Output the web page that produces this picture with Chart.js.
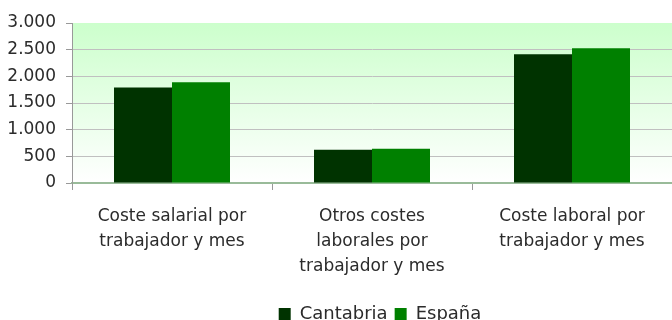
<!DOCTYPE html>
<html>
<head>
<meta charset="utf-8">
<script src="https://cdn.jsdelivr.net/npm/chart.js@4.4.1/dist/chart.umd.min.js"></script>
<style>
  html, body { margin: 0; padding: 0; background: #fff; overflow: hidden; }
  #wrap { width: 672px; height: 333px; }
</style>
</head>
<body>
<div id="wrap"><canvas id="chart"></canvas></div>
<script>
const categories = [
  ["Coste salarial por", "trabajador y mes"],
  ["Otros costes", "laborales por", "trabajador y mes"],
  ["Coste laboral por", "trabajador y mes"]
];
const seriesNames = ["Cantabria", "España"];
const cantabria = [1790, 623, 2415];
const espana = [1890, 641, 2528];
const seriesColors = ["#003300", "#008000"];
const yTicks = [0, 500, 1000, 1500, 2000, 2500, 3000];

const fontFamily = "'DejaVu Sans', sans-serif";
const textColor = "#2b2b2b";

// light green wash behind the plot, fading to white at the base
const plotBackground = {
  id: "plotBackground",
  beforeDraw(chart) {
    const { ctx, chartArea: a } = chart;
    const g = ctx.createLinearGradient(0, a.top, 0, a.bottom);
    g.addColorStop(0, "#ccffcc");
    g.addColorStop(1, "#ffffff");
    ctx.save();
    ctx.fillStyle = g;
    ctx.fillRect(a.left, a.top, a.right - a.left, a.bottom - a.top);
    ctx.restore();
  }
};

// nudge the legend a little right of the canvas centre
const legendShift = {
  id: "legendShift",
  afterLayout(chart) {
    const lg = chart.legend;
    if (!lg) return;
    lg.left += 44;
    lg.right += 44;
  }
};

const ctx = document.getElementById("chart").getContext("2d");
new Chart(ctx, {
  type: "bar",
  data: {
    labels: categories,
    datasets: [
      { label: seriesNames[0], data: cantabria, backgroundColor: seriesColors[0] },
      { label: seriesNames[1], data: espana, backgroundColor: seriesColors[1] }
    ]
  },
  options: {
    responsive: true,
    maintainAspectRatio: false,
    animation: false,
    datasets: {
      bar: { categoryPercentage: 0.58, barPercentage: 1.0 }
    },
    layout: { padding: { left: 0, right: 0, top: 23, bottom: 0 } },
    plugins: {
      tooltip: { enabled: false },
      legend: {
        position: "bottom",
        labels: {
          boxWidth: 12,
          boxHeight: 12,
          padding: 7,
          color: textColor,
          font: { family: fontFamily, size: 18 }
        }
      }
    },
    scales: {
      x: {
        grid: {
          drawOnChartArea: false,
          tickLength: 7,
          color: "#999999"
        },
        border: { color: "#99bb99", width: 2 },
        ticks: {
          color: textColor,
          padding: 14,
          maxRotation: 0,
          font: { family: fontFamily, size: 17, lineHeight: 1.47 }
        },
        afterFit(scale) { scale.height = 115; }
      },
      y: {
        min: 0,
        max: 3000,
        afterBuildTicks(scale) { scale.ticks = yTicks.map(v => ({ value: v })); },
        grid: {
          color: c => (c.tick && c.tick.value === 3000 ? "rgba(0,0,0,0)" : "#c0c0c0"),
          tickColor: "#999999",
          tickLength: 6,
          drawTicks: true
        },
        border: { color: "#999999" },
        ticks: {
          color: textColor,
          padding: 10,
          font: { family: fontFamily, size: 17 },
          callback: v => v.toLocaleString("es-ES", { useGrouping: true, minimumGroupingDigits: 1 })
        },
        afterFit(scale) { scale.width = 72; }
      }
    }
  },
  plugins: [plotBackground, legendShift]
});
</script>
</body>
</html>
